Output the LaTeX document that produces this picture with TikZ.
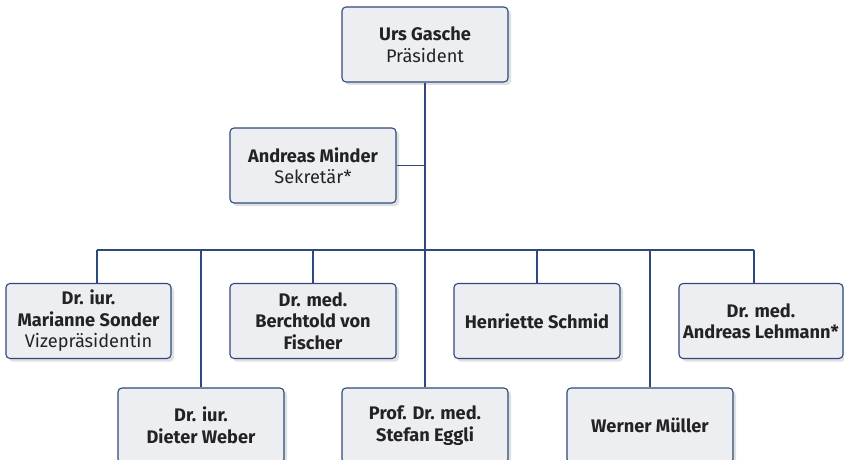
\documentclass[tikz,border=0pt]{standalone}
\usepackage{fontspec}
\setmainfont{Fira Sans}
\usepackage{xcolor}
\usetikzlibrary{shadows}

\definecolor{boxline}{HTML}{2E4A7D}
\definecolor{boxfill}{HTML}{EDEEF2}
\definecolor{nametext}{HTML}{232323}

\begin{document}
\begin{tikzpicture}[x=1pt,y=-1pt,thick,
    line width=1.2pt,
    main node/.style={draw=boxline,fill=boxfill,rounded corners=4pt,line width=1.1pt,
        minimum width=166pt,minimum height=75pt,inner sep=0pt,align=center,
        text=nametext,font=\fontsize{18.2}{21.5}\selectfont,
        drop shadow={shadow xshift=3pt,shadow yshift=-3pt,opacity=0.12,fill=black}},
    link/.style={draw=boxline,line width=1.3pt}]

            \useasboundingbox (0,0) rectangle (844,460);

            \node[main node] (gasche) at (425,44.5) {\textbf{Urs Gasche}\\Präsident};
            \node[main node] (minder) at (313,165.5) {\textbf{Andreas Minder}\\Sekretär*};

            \node[main node,minimum width=165pt] (sonder) at (88.5,321) {\textbf{Dr. iur.}\\\textbf{Marianne Sonder}\\Vizepräsidentin};
            \node[main node] (fischer) at (313,321) {\textbf{Dr. med.}\\\textbf{Berchtold von}\\\textbf{Fischer}};
            \node[main node] (schmid) at (537,321) {\textbf{Henriette Schmid}};
            \node[main node,minimum width=164pt] (lehmann) at (761,321) {\textbf{Dr. med.}\\\textbf{Andreas Lehmann*}};

            \node[main node] (weber) at (201,425.5) {\textbf{Dr. iur.}\\\textbf{Dieter Weber}};
            \node[main node] (eggli) at (425,425.5) {\textbf{Prof. Dr. med.}\\\textbf{Stefan Eggli}};
            \node[main node] (mueller) at (650,425.5) {\textbf{Werner Müller}};

            \coordinate (busL) at (97,250);
            \coordinate (busR) at (754,250);

            \draw[link] (gasche.south) to (eggli.north);
            \draw[link] (minder.east) to (minder.east -| gasche.south);
            \draw[link] (busL) to (busR);
            \draw[link] (busL) to (busL |- sonder.north);
            \draw[link] (busR) to (busR |- lehmann.north);
            \draw[link] (busL -| fischer.north) to (fischer.north);
            \draw[link] (busL -| schmid.north) to (schmid.north);
            \draw[link] (busL -| weber.north) to (weber.north);
            \draw[link] (busL -| mueller.north) to (mueller.north);

            ;
        \end{tikzpicture}
\end{document}
